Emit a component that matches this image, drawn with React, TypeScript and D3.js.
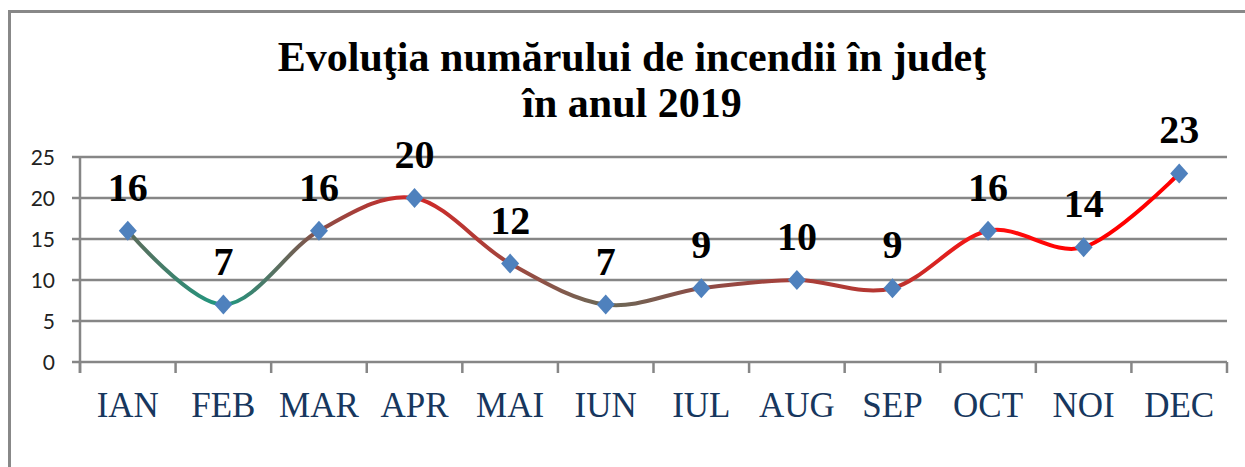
import React from "react";
import * as d3 from "d3";

const months = ["IAN", "FEB", "MAR", "APR", "MAI", "IUN", "IUL", "AUG", "SEP", "OCT", "NOI", "DEC"];
const fires = [16, 7, 16, 20, 12, 7, 9, 10, 9, 16, 14, 23];
const yTicks = [0, 5, 10, 15, 20, 25];
const lineColors = ["#5e6b5a", "#1c9a82", "#8a4e46", "#d42626", "#a0463e", "#6a6a58", "#8c4c46", "#a8403a", "#b83530", "#ff1010", "#ff0000", "#ff0000"];
const titleLines = ["Evoluţia numărului de incendii în judeţ", "în anul 2019"];

const W = 1245;
const H = 467;

export default function App() {
  const x = d3.scaleBand<string>().domain(months).range([80, 1227]);
  const y = d3.scaleLinear().domain([0, 25]).range([362, 157]);
  const cx = (m: string) => (x(m) as number) + x.bandwidth() / 2;

  const pts: [number, number][] = fires.map((v, i) => [cx(months[i]), y(v)]);
  const line = d3.line().curve(d3.curveCatmullRom.alpha(0))(pts) as string;

  const x0 = cx(months[0]);
  const x1 = cx(months[months.length - 1]);

  const boundaries = months.map((m) => x(m) as number).concat([x.range()[1]]);

  return (
    <svg width={W} height={H} style={{ position: "absolute", left: 0, top: 0, background: "#fff" }}>
      <defs>
        <linearGradient id="lg" gradientUnits="userSpaceOnUse" x1={x0} y1={0} x2={x1} y2={0}>
          {lineColors.map((c, i) => (
            <stop key={i} offset={(cx(months[i]) - x0) / (x1 - x0)} stopColor={c} />
          ))}
        </linearGradient>
      </defs>
      <rect x={9.5} y={11.5} width={1400} height={700} fill="none" stroke="#888" strokeWidth={3} />

      {titleLines.map((t, i) => (
        <text
          key={i}
          x={632}
          y={71 + i * 46}
          textAnchor="middle"
          fontFamily="'Liberation Serif', 'Times New Roman', serif"
          fontWeight="bold"
          fontSize={42}
          fill="#000"
        >
          {t}
        </text>
      ))}

      {yTicks.map((t) => (
        <g key={t}>
          <line x1={72} x2={x.range()[1]} y1={y(t)} y2={y(t)} stroke="#868686" strokeWidth={2.5} />
          <text
            x={55}
            y={y(t)}
            dy="0.36em"
            textAnchor="end"
            fontFamily="Lato, 'Open Sans', sans-serif"
            fontSize={21}
            fill="#222"
          >
            {t}
          </text>
        </g>
      ))}
      <line x1={80} x2={80} y1={y(25)} y2={373} stroke="#868686" strokeWidth={2.5} />
      {boundaries.map((b, i) => (
        <line key={i} x1={b} x2={b} y1={y(0)} y2={373} stroke="#868686" strokeWidth={2.5} />
      ))}

      {months.map((m) => (
        <text
          key={m}
          x={cx(m)}
          y={417}
          textAnchor="middle"
          fontFamily="'Liberation Serif', 'Times New Roman', serif"
          fontSize={35}
          fill="#17375e"
        >
          {m}
        </text>
      ))}

      <path d={line} fill="none" stroke="url(#lg)" strokeWidth={4} />

      {pts.map(([px, py], i) => (
        <path
          key={i}
          d={`M${px},${py - 10}L${px + 9},${py}L${px},${py + 10}L${px - 9},${py}Z`}
          fill="#4f81bd"
        />
      ))}

      {pts.map(([px, py], i) => (
        <text
          key={i}
          x={px}
          y={py - 30}
          textAnchor="middle"
          fontFamily="'Liberation Serif', 'Times New Roman', serif"
          fontWeight="bold"
          fontSize={40}
          fill="#000"
        >
          {fires[i]}
        </text>
      ))}
    </svg>
  );
}
